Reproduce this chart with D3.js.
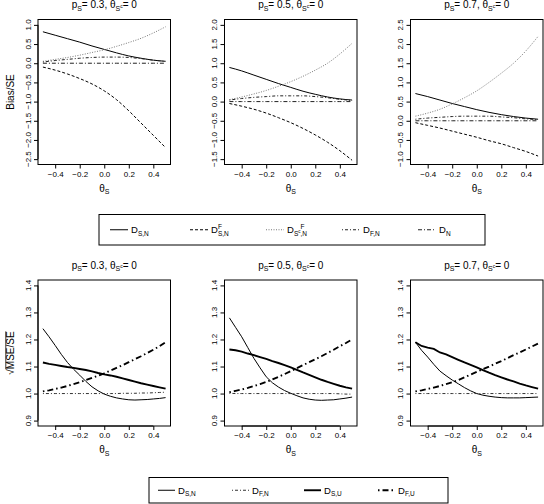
<!DOCTYPE html>
<html><head><meta charset="utf-8">
<script src="https://cdn.jsdelivr.net/npm/d3@7"></script>
<style>body{margin:0;background:#fff}svg{display:block;font-family:"Liberation Sans",Arial,sans-serif}</style>
</head><body><svg id="c" width="544" height="504"></svg>
<script>
// ---------- DATA ----------
const pS = ["0.3", "0.5", "0.7"];
const xTop = [-0.5, -0.4, -0.3, -0.2, -0.1, 0.0, 0.1, 0.2, 0.3, 0.4, 0.5];
const xBottom = [-0.5, -0.45, -0.4, -0.35, -0.3, -0.25, -0.2, -0.15, -0.1, -0.05, 0.0, 0.05, 0.1, 0.15, 0.2, 0.25, 0.3, 0.35, 0.4, 0.45, 0.5];
const topYLim = [[-2.5, 1.0], [-1.5, 2.0], [-1.0, 2.5]];
const bottomYLim = [0.9, 1.4];
const xTicks = [-0.4, -0.2, 0.0, 0.2, 0.4];

// Bias/SE (top row), one row per p_S
const biasDSN = [
  [0.82, 0.73, 0.64, 0.55, 0.45, 0.36, 0.27, 0.19, 0.13, 0.08, 0.05],
  [0.89, 0.80, 0.69, 0.58, 0.47, 0.37, 0.27, 0.19, 0.12, 0.07, 0.04],
  [0.71, 0.63, 0.54, 0.45, 0.37, 0.29, 0.22, 0.16, 0.11, 0.07, 0.04]
];
const biasDFSN = [
  [-0.10, -0.18, -0.28, -0.40, -0.54, -0.72, -0.95, -1.24, -1.56, -1.88, -2.20],
  [-0.05, -0.12, -0.20, -0.30, -0.42, -0.55, -0.70, -0.87, -1.06, -1.28, -1.53],
  [-0.05, -0.12, -0.19, -0.27, -0.35, -0.43, -0.52, -0.60, -0.70, -0.80, -0.92]
];
const biasDFScN = [
  [0.05, 0.10, 0.15, 0.21, 0.28, 0.35, 0.44, 0.54, 0.65, 0.79, 0.95],
  [0.05, 0.12, 0.20, 0.29, 0.40, 0.52, 0.66, 0.82, 1.00, 1.24, 1.52],
  [0.12, 0.20, 0.30, 0.44, 0.60, 0.78, 1.00, 1.24, 1.50, 1.82, 2.20]
];
const biasDFN = [
  [0.03, 0.07, 0.10, 0.13, 0.15, 0.16, 0.16, 0.15, 0.12, 0.08, 0.05],
  [0.04, 0.08, 0.11, 0.13, 0.15, 0.15, 0.15, 0.13, 0.10, 0.06, 0.03],
  [0.04, 0.07, 0.09, 0.11, 0.12, 0.12, 0.12, 0.10, 0.08, 0.05, 0.03]
];
const biasDN = [
  [0.00, 0.00, 0.00, 0.00, 0.00, 0.00, 0.00, 0.00, 0.00, 0.00, 0.00],
  [0.00, 0.00, 0.00, 0.00, 0.00, 0.00, 0.00, 0.00, 0.00, 0.00, 0.00],
  [0.00, 0.00, 0.00, 0.00, 0.00, 0.00, 0.00, 0.00, 0.00, 0.00, 0.00]
];

// sqrt(MSE)/SE (bottom row)
const rmseDSN = [
  [1.240, 1.210, 1.178, 1.145, 1.115, 1.090, 1.068, 1.045, 1.025, 1.010, 0.998, 0.990, 0.984, 0.980, 0.977, 0.976, 0.977, 0.978, 0.980, 0.982, 0.985],
  [1.280, 1.245, 1.210, 1.170, 1.130, 1.095, 1.062, 1.040, 1.024, 1.011, 1.001, 0.992, 0.984, 0.979, 0.976, 0.975, 0.976, 0.977, 0.980, 0.983, 0.987],
  [1.190, 1.160, 1.135, 1.108, 1.083, 1.066, 1.050, 1.036, 1.022, 1.010, 1.000, 0.994, 0.990, 0.987, 0.985, 0.984, 0.984, 0.984, 0.985, 0.986, 0.987]
];
const rmseDFN = [
  [1.000, 1.000, 1.000, 1.000, 1.000, 1.000, 1.000, 1.000, 1.000, 1.000, 1.000, 1.000, 1.000, 1.001, 1.001, 1.001, 1.002, 1.002, 1.003, 1.004, 1.005],
  [1.001, 1.000, 1.000, 1.000, 1.000, 1.000, 1.000, 1.000, 1.000, 1.000, 1.000, 1.000, 1.000, 1.000, 1.000, 1.000, 1.000, 1.000, 0.999, 0.998, 0.998],
  [1.000, 1.000, 1.000, 1.000, 1.000, 1.000, 1.000, 1.000, 1.000, 1.000, 1.000, 1.000, 1.000, 1.000, 1.000, 1.000, 1.000, 1.000, 1.000, 1.000, 1.000]
];
const rmseDSU = [
  [1.115, 1.110, 1.106, 1.102, 1.098, 1.095, 1.091, 1.087, 1.082, 1.076, 1.071, 1.067, 1.062, 1.056, 1.050, 1.044, 1.038, 1.033, 1.028, 1.023, 1.018],
  [1.163, 1.160, 1.155, 1.148, 1.142, 1.135, 1.128, 1.120, 1.113, 1.105, 1.097, 1.088, 1.078, 1.069, 1.060, 1.051, 1.043, 1.036, 1.029, 1.023, 1.018],
  [1.190, 1.176, 1.170, 1.165, 1.152, 1.145, 1.135, 1.125, 1.115, 1.106, 1.097, 1.087, 1.077, 1.068, 1.060, 1.052, 1.045, 1.037, 1.030, 1.024, 1.018]
];
const rmseDFU = [
  [1.008, 1.012, 1.017, 1.022, 1.028, 1.035, 1.042, 1.050, 1.058, 1.066, 1.075, 1.085, 1.095, 1.105, 1.116, 1.127, 1.138, 1.150, 1.162, 1.175, 1.190],
  [1.005, 1.010, 1.015, 1.021, 1.028, 1.035, 1.043, 1.052, 1.062, 1.072, 1.083, 1.094, 1.105, 1.116, 1.127, 1.138, 1.150, 1.162, 1.175, 1.187, 1.200],
  [1.008, 1.012, 1.017, 1.022, 1.028, 1.035, 1.042, 1.050, 1.060, 1.070, 1.080, 1.090, 1.100, 1.110, 1.120, 1.131, 1.142, 1.152, 1.163, 1.174, 1.185]
];

// ---------- STYLES ----------
const topSeries = [
  {data: biasDSN,   stroke: "#000", w: 1, dash: null},
  {data: biasDFSN,  stroke: "#000", w: 1, dash: "3,2"},
  {data: biasDFScN, stroke: "#777", w: 1, dash: "1,1.5"},
  {data: biasDFN,   stroke: "#222", w: 1, dash: "1,2,3,2"},
  {data: biasDN,    stroke: "#222", w: 1, dash: "4,2,1,2"}
];
const bottomSeries = [
  {data: rmseDSN, stroke: "#000", w: 1, dash: null},
  {data: rmseDFN, stroke: "#333", w: 1, dash: "1,2,3,2"},
  {data: rmseDSU, stroke: "#000", w: 1.9, dash: null},
  {data: rmseDFU, stroke: "#000", w: 1.9, dash: "1.5,3,6,3"}
];

const svg = d3.select("#c");
const colX = [38, 224.5, 410.5];
const panelW = 132.5;
const FS = 8, TS = 10;

function rich(parent, parts, x, y, anchor) {
  const g = parent.append("g");
  let cur = 0, prevStart = 0, maxEnd = 0;
  parts.forEach(p => {
    const sx = p.stack ? prevStart : cur;
    const t = g.append("text").attr("x", sx).attr("y", p.dy || 0)
      .attr("font-size", p.s).text(p.t);
    const w = t.node().getComputedTextLength();
    if (p.over) {
      g.append("line").attr("x1", sx).attr("x2", sx + w)
        .attr("y1", -p.s * 0.82).attr("y2", -p.s * 0.82)
        .attr("stroke", "#000").attr("stroke-width", 0.8);
    }
    prevStart = sx;
    maxEnd = Math.max(maxEnd, sx + w);
    cur = maxEnd;
  });
  const off = anchor === "middle" ? -maxEnd / 2 : 0;
  g.attr("transform", `translate(${x + off},${y})`);
  return g;
}

function padDomain(a, b) { const r = (b - a) * 0.04; return [a - r, b + r]; }

function panel(i, row) {
  const x0 = colX[i];
  const y0 = row === 0 ? 19.5 : 280;
  const h = row === 0 ? 145 : 146;
  const xs = d3.scaleLinear().domain(padDomain(-0.5, 0.5)).range([x0, x0 + panelW]);
  const lim = row === 0 ? topYLim[i] : bottomYLim;
  const ys = d3.scaleLinear().domain(padDomain(lim[0], lim[1])).range([y0 + h, y0]);
  const yTicks = row === 0 ? d3.range(lim[0], lim[1] + 0.001, 0.5) : d3.range(lim[0], lim[1] + 0.001, 0.1);
  const g = svg.append("g");

  const cid = `clip${row}${i}`;
  svg.append("clipPath").attr("id", cid).append("rect")
    .attr("x", x0).attr("y", y0).attr("width", panelW).attr("height", h);

  const series = row === 0 ? topSeries : bottomSeries;
  const xv = row === 0 ? xTop : xBottom;
  const line = d3.line().x((d, k) => xs(xv[k])).y(d => ys(d))
    .curve(row === 0 ? d3.curveMonotoneX : d3.curveLinear);
  const lg = g.append("g").attr("clip-path", `url(#${cid})`);
  series.forEach(s => {
    lg.append("path").attr("d", line(s.data[i])).attr("fill", "none")
      .attr("stroke", s.stroke).attr("stroke-width", s.w)
      .attr("stroke-dasharray", s.dash);
  });

  g.append("rect").attr("x", x0).attr("y", y0).attr("width", panelW).attr("height", h)
    .attr("fill", "none").attr("stroke", "#000").attr("stroke-width", 1);

  const xa = g.append("g").attr("transform", `translate(0,${y0 + h})`)
    .call(d3.axisBottom(xs).tickValues(xTicks).tickSize(4).tickPadding(2.5)
      .tickFormat(d => d3.format(".1f")(d).replace("-", "\u2212")));
  xa.select(".domain").attr("d", `M${xs(-0.4)},0H${xs(0.4)}`);
  xa.selectAll("text").attr("font-size", FS).attr("font-family", null).attr("fill", "#000");
  xa.selectAll("line").attr("stroke", "#000");

  const ya = g.append("g").attr("transform", `translate(${x0},0)`)
    .call(d3.axisLeft(ys).tickValues(yTicks).tickSize(4).tickFormat(""));
  ya.select(".domain").attr("d", `M0,${ys(yTicks[0])}V${ys(yTicks[yTicks.length - 1])}`);
  ya.selectAll("line").attr("stroke", "#000");
  yTicks.forEach(v => {
    g.append("text")
      .attr("transform", `translate(${x0 - 7.5},${ys(v)}) rotate(-90)`)
      .attr("text-anchor", "middle").attr("font-size", FS)
      .text(d3.format(".1f")(v).replace("-", "\u2212"));
  });

  const ty = row === 0 ? 8 : 268.5;
  rich(g, [
    {t: "p", s: TS}, {t: "S", s: 7, dy: 2.5}, {t: "= " + pS[i] + ", \u03b8", s: TS},
    {t: "S", s: 7, dy: 2.5}, {t: "c", s: 5, dy: -0.5}, {t: " = 0", s: TS}
  ], x0 + panelW / 2, ty, "middle");

  rich(g, [{t: "\u03b8", s: TS}, {t: "S", s: 7, dy: 2.5}], x0 + panelW / 2, y0 + h + 27, "middle");

  if (i === 0) {
    const yg = g.append("g").attr("transform", `translate(14,${y0 + h / 2}) rotate(-90)`);
    if (row === 0) {
      rich(yg, [{t: "Bias/SE", s: TS}], 0, 0, "middle");
    } else {
      rich(yg, [{t: "\u221a", s: TS}, {t: "MSE/SE", s: TS, over: true}], 0, 0, "middle");
    }
  }
}

for (let r = 0; r < 2; r++) for (let i = 0; i < 3; i++) panel(i, r);

// ---------- LEGENDS ----------
const legend1Labels = [
  [{t: "D", s: 9.5}, {t: "S,N", s: 6.5, dy: 2.5}],
  [{t: "D", s: 9.5}, {t: "F", s: 6.5, dy: -4}, {t: "S,N", s: 6.5, dy: 2.5, stack: true}],
  [{t: "D", s: 9.5}, {t: "S", s: 6.5, dy: 2.5}, {t: "c", s: 4.5, dy: -0.5}, {t: "F", s: 6.5, dy: -4}, {t: ",N", s: 6.5, dy: 2.5, stack: true}],
  [{t: "D", s: 9.5}, {t: "F,N", s: 6.5, dy: 2.5}],
  [{t: "D", s: 9.5}, {t: "N", s: 6.5, dy: 2.5}]
];
const legend2Labels = [
  [{t: "D", s: 9.5}, {t: "S,N", s: 6.5, dy: 2.5}],
  [{t: "D", s: 9.5}, {t: "F,N", s: 6.5, dy: 2.5}],
  [{t: "D", s: 9.5}, {t: "S,U", s: 6.5, dy: 2.5}],
  [{t: "D", s: 9.5}, {t: "F,U", s: 6.5, dy: 2.5}]
];

function legend(box, starts, len, styles, labels) {
  const g = svg.append("g");
  g.append("rect").attr("x", box[0]).attr("y", box[1]).attr("width", box[2] - box[0])
    .attr("height", box[3] - box[1]).attr("fill", "#fff").attr("stroke", "#000").attr("stroke-width", 1);
  const cy = (box[1] + box[3]) / 2;
  styles.forEach((s, k) => {
    g.append("line").attr("x1", starts[k]).attr("x2", starts[k] + len)
      .attr("y1", cy).attr("y2", cy).attr("stroke", s.stroke)
      .attr("stroke-width", s.w).attr("stroke-dasharray", s.dash);
    rich(g, labels[k], starts[k] + len + 3, cy + 3.5, "start");
  });
}
legend([99, 214.5, 485, 245], [110, 190, 266, 342, 418], 18, topSeries, legend1Labels);
legend([149, 477.5, 448, 503], [158, 232, 304, 378], 17, bottomSeries, legend2Labels);
</script></body></html>
